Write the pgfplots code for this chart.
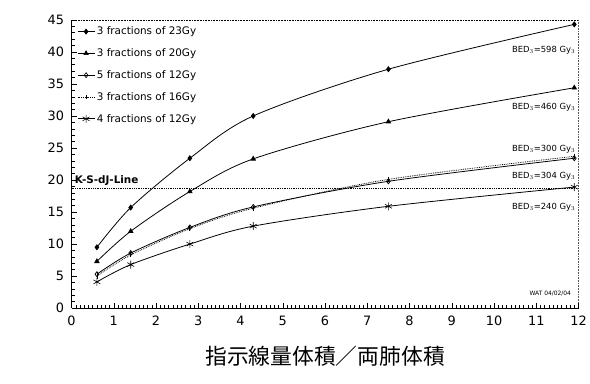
\documentclass[border=0pt]{standalone}
\usepackage{pgfplots}
\pgfplotsset{compat=1.18}
\usepackage{fontspec}
\setmainfont{DejaVu Sans}
\newfontfamily\cjk{Noto Sans CJK JP}
\begin{document}
\begin{tikzpicture}[x=1bp,y=1bp]
\begin{axis}[
  scale only axis, width=510bp, height=290bp,
  xmin=0, xmax=12, ymin=0, ymax=45,
  axis x line*=bottom, axis y line*=left,
  axis line style={line width=0.8pt,-},
  xtick={0,...,12}, ytick={0,5,...,45},
  minor x tick num=9, minor y tick num=4,
  tick align=inside,
  major tick length=5bp, minor tick length=3bp,
  tick style={black, line width=0.5pt},
  /pgf/number format/assume math mode=true,
  ticklabel style={font=\fontsize{13}{15}\selectfont},
  xticklabel style={yshift=-4bp},
  yticklabel style={xshift=-4bp},
  xlabel={\cjk\fontsize{22}{25}\selectfont 指示線量体積／両肺体積},
  xlabel style={yshift=-14bp},
  legend style={draw=none, fill=none, at={(0.005,0.99)}, anchor=north west,
    font=\fontsize{10.5}{12}\selectfont, row sep=8.5bp,
    legend cell align=left},
  legend image post style={line width=0.7pt},
  every axis plot/.append style={black, line width=0.8pt},
]
\addplot[smooth, tension=0.5, mark=diamond*, mark size=2.5pt] coordinates {(0.6,9.5) (1.4,15.7) (2.8,23.4) (4.3,30.0) (7.5,37.3) (11.9,44.3)};
\addlegendentry{3 fractions of 23Gy}
\addplot[smooth, tension=0.5, mark=triangle*, mark size=2.5pt] coordinates {(0.6,7.3) (1.4,12.0) (2.8,18.2) (4.3,23.3) (7.5,29.1) (11.9,34.4)};
\addlegendentry{3 fractions of 20Gy}
\addplot[smooth, tension=0.5, mark=diamond, mark size=2.5pt, mark options={solid}] coordinates {(0.6,5.3) (1.4,8.6) (2.8,12.6) (4.3,15.8) (7.5,19.8) (11.9,23.4)};
\addlegendentry{5 fractions of 12Gy}
\addplot[smooth, tension=0.5, densely dotted, mark=|, mark size=2.5pt, mark options={solid}] coordinates {(0.6,5.0) (1.4,8.3) (2.8,12.4) (4.3,15.6) (7.5,20.1) (11.9,23.7)};
\addlegendentry{3 fractions of 16Gy}
\addplot[smooth, tension=0.5, mark=asterisk, mark size=4pt, mark options={line width=0.6pt}] coordinates {(0.6,4.1) (1.4,6.8) (2.8,10.0) (4.3,12.8) (7.5,15.9) (11.9,18.9)};
\addlegendentry{4 fractions of 12Gy}
\addplot[densely dotted, line width=1.2pt, forget plot] coordinates {(0,18.7) (12,18.7)};
\node[anchor=south west, font=\fontsize{10.5}{12}\selectfont\bfseries, inner sep=1bp] at (axis cs:0.05,18.9) {K-S-dJ-Line};
\draw[densely dotted, line width=0.6pt] (rel axis cs:0,1) -- (rel axis cs:1,1) -- (rel axis cs:1,0);
\begin{scope}[every node/.style={anchor=east, font=\fontsize{8.5}{10}\selectfont, inner sep=1bp}]
\node at (axis cs:11.95,40.3) {BED$_3$=598 Gy$_3$};
\node at (axis cs:11.95,31.3) {BED$_3$=460 Gy$_3$};
\node at (axis cs:11.95,24.8) {BED$_3$=300 Gy$_3$};
\node at (axis cs:11.95,20.6) {BED$_3$=304 Gy$_3$};
\node at (axis cs:11.95,15.8) {BED$_3$=240 Gy$_3$};
\node[font=\fontsize{6}{7}\selectfont] at (axis cs:11.85,2.2) {WAT 04/02/04};
\end{scope}
\end{axis}
\useasboundingbox (current axis.south west) ++(-72bp,-76bp) rectangle ++(590bp,386bp);
\end{tikzpicture}
\end{document}
